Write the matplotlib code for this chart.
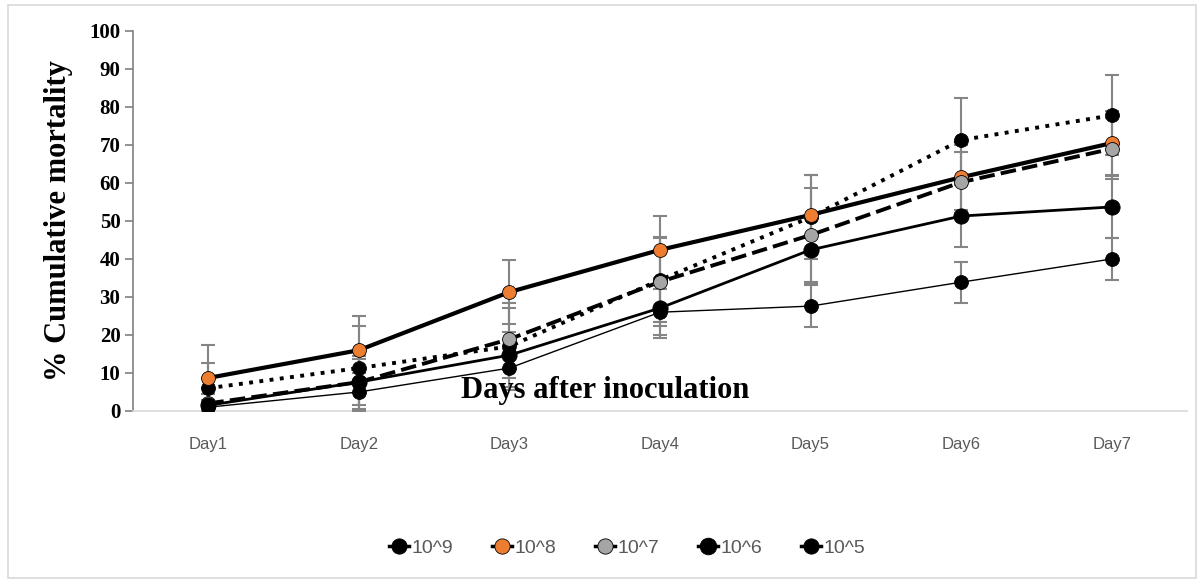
import matplotlib.pyplot as plt
import numpy as np
from matplotlib.lines import Line2D
from matplotlib.patches import Rectangle

# Cumulative mortality (%) per day after inoculation, with error bars
days = ['Day1', 'Day2', 'Day3', 'Day4', 'Day5', 'Day6', 'Day7']
dose_labels = ['10^9', '10^8', '10^7', '10^6', '10^5']

mort_1e9 = [6.0, 11.3, 17.0, 34.5, 51.0, 71.3, 77.8]
err_1e9 = [6.6, 11.0, 11.5, 11.0, 11.0, 11.0, 10.5]
mort_1e8 = [8.7, 16.0, 31.3, 42.4, 51.6, 61.5, 70.5]
err_1e8 = [8.7, 9.0, 8.4, 8.9, 10.5, 8.5, 8.5]
mort_1e7 = [2.0, 7.6, 18.9, 34.0, 46.3, 60.2, 69.0]
err_1e7 = [4.0, 6.0, 8.2, 11.7, 12.5, 8.0, 8.0]
mort_1e6 = [1.5, 7.6, 14.7, 27.1, 42.4, 51.3, 53.7]
err_1e6 = [3.0, 7.0, 6.1, 8.0, 8.5, 8.1, 8.1]
mort_1e5 = [1.0, 5.0, 11.3, 26.0, 27.6, 33.9, 40.0]
err_1e5 = [2.0, 5.0, 5.0, 6.0, 5.6, 5.4, 5.5]

series = [mort_1e9, mort_1e8, mort_1e7, mort_1e6, mort_1e5]
errors = [err_1e9, err_1e8, err_1e7, err_1e6, err_1e5]

# line style, line width, marker face, marker size
styles = [
    (':', 2.8, 'black', 10),
    ('-', 3.0, '#ed7d31', 10),
    ((0, (4, 1.6)), 2.8, '#a5a5a5', 10),
    ('-', 2.0, 'black', 11),
    ('-', 1.0, 'black', 10),
]

W, H = 1204, 583
fig = plt.figure(figsize=(W / 100, H / 100), dpi=100)
ax = fig.add_axes([133 / W, 1 - 411 / H, (1187 - 133) / W, (411 - 31) / H])

x = np.arange(len(days))
for vals, err, (ls, lw, fc, ms) in zip(series, errors, styles):
    ax.plot(x, vals, linestyle=ls, color='black', linewidth=lw, zorder=2,
            solid_capstyle='butt', dash_capstyle='butt')
    ax.errorbar(x, vals, yerr=err, fmt='none', ecolor='#858585',
                elinewidth=1.5, capsize=5, capthick=1.5, zorder=3)
    ax.plot(x, vals, linestyle='none', marker='o', markersize=ms,
            markerfacecolor=fc, markeredgecolor='black',
            markeredgewidth=0.6, zorder=4)

ax.set_xlim(-0.5, 6.5)
ax.set_ylim(0, 100)
ax.set_yticks(np.arange(0, 101, 10))
ax.set_xticks(x)
ax.set_xticklabels(days)

for s in ['top', 'right']:
    ax.spines[s].set_visible(False)
ax.spines['left'].set_color('#808080')
ax.spines['left'].set_linewidth(1.2)
ax.spines['bottom'].set_color('#d9d9d9')
ax.spines['bottom'].set_linewidth(1.2)

ax.tick_params(axis='y', direction='out', length=6, width=1.2, color='#808080',
               pad=3, labelsize=15)
for lbl in ax.get_yticklabels():
    lbl.set_fontfamily('Liberation Serif')
    lbl.set_fontweight('bold')
ax.tick_params(axis='x', length=0, pad=19, labelsize=12, labelcolor='#595959')
for lbl in ax.get_xticklabels():
    lbl.set_fontfamily('Liberation Sans')

ax.set_ylabel('% Cumulative mortality', fontsize=22, fontweight='bold',
              family='Liberation Serif', labelpad=12)
ax.text(0.448, 0.055, 'Days after inoculation', transform=ax.transAxes,
        ha='center', va='center', fontsize=22, fontweight='bold',
        family='Liberation Serif', zorder=5)

handles = []
for lab, (ls, lw, fc, ms) in zip(dose_labels, styles):
    handles.append(Line2D([0], [0], color='black', linewidth=2.5, marker='o',
                          markersize=ms + 1, markerfacecolor=fc,
                          markeredgecolor='black', markeredgewidth=0.6,
                          label=lab))
leg = fig.legend(handles=handles, loc='center', bbox_to_anchor=(0.521, 1 - 548 / H),
                 ncol=5, frameon=False, handlelength=1.0, handletextpad=0.15,
                 columnspacing=2.0, prop={'family': 'Liberation Sans', 'size': 14})
for t in leg.get_texts():
    t.set_color('#595959')

# chart area border
fig.patches.append(Rectangle((8 / W, 5 / H), (1196 - 8) / W, (578 - 5) / H,
                             transform=fig.transFigure, fill=False,
                             edgecolor='#d9d9d9', linewidth=1.2))

fig.savefig('out.png', dpi=100)
